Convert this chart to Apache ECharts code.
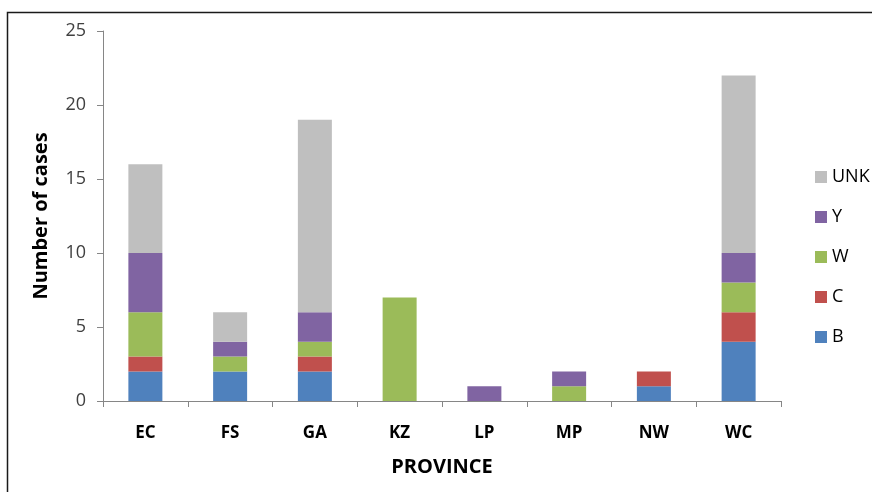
<!DOCTYPE html>
<html><head><meta charset="utf-8">
<script src="https://cdn.jsdelivr.net/npm/echarts@6/dist/echarts.min.js"></script>
<style>html,body{margin:0;padding:0;background:#fff}#c{width:872px;height:492px}</style>
</head><body><div id="c"></div>
<script>
const categories = ['EC','FS','GA','KZ','LP','MP','NW','WC'];
const B   = [2, 2, 2, 0, 0, 0, 1, 4];
const C   = [1, 0, 1, 0, 0, 0, 1, 2];
const W   = [3, 1, 1, 7, 0, 1, 0, 2];
const Y   = [4, 1, 2, 0, 1, 1, 0, 2];
const UNK = [6, 2, 13, 0, 0, 0, 0, 12];
const seriesNames = ['B','C','W','Y','UNK'];
const seriesData = [B, C, W, Y, UNK];
const colors = ['#4F81BD','#C0504D','#9BBB59','#8064A2','#BFBFBF'];

const chart = echarts.init(document.getElementById('c'));
chart.setOption({
  animation: false,
  textStyle: {fontFamily: 'Open Sans'},
  graphic: [{type:'rect', shape:{x:7.5,y:12.5,width:900,height:600}, style:{fill:'none', stroke:'#1a1a1a', lineWidth:1.5}, silent:true}],
  grid: {left:103, top:31, width:678, height:370},
  legend: {
    orient:'vertical', left:810, top:163, itemWidth:12, itemHeight:12, itemGap:22,
    icon:'rect', data:['UNK','Y','W','C','B'],
    textStyle:{fontSize:18, lineHeight:14, color:'#000', fontFamily:'Open Sans'}
  },
  xAxis: {
    type:'category', data:categories,
    axisLine:{lineStyle:{color:'#868686'}},
    axisTick:{show:true, alignWithLabel:false, length:6, lineStyle:{color:'#868686'}},
    axisLabel:{fontSize:17, fontWeight:'bold', color:'#000', margin:24},
    name:'PROVINCE', nameLocation:'middle', nameGap:56,
    nameTextStyle:{fontSize:20, fontWeight:'bold', color:'#000'}
  },
  yAxis: {
    type:'value', min:0, max:25, interval:5,
    axisLine:{show:true, lineStyle:{color:'#868686'}},
    axisTick:{show:true, length:6, lineStyle:{color:'#868686'}},
    splitLine:{show:false},
    axisLabel:{fontSize:18, color:'#404040', margin:17},
    name:'Number of cases', nameLocation:'middle', nameGap:52,
    nameTextStyle:{fontSize:20, fontWeight:'bold', color:'#000'}
  },
  series: seriesNames.map((n,i)=>({
    name:n, type:'bar', stack:'total', data:seriesData[i],
    barWidth:34, itemStyle:{color:colors[i]}
  }))
});
</script></body></html>
